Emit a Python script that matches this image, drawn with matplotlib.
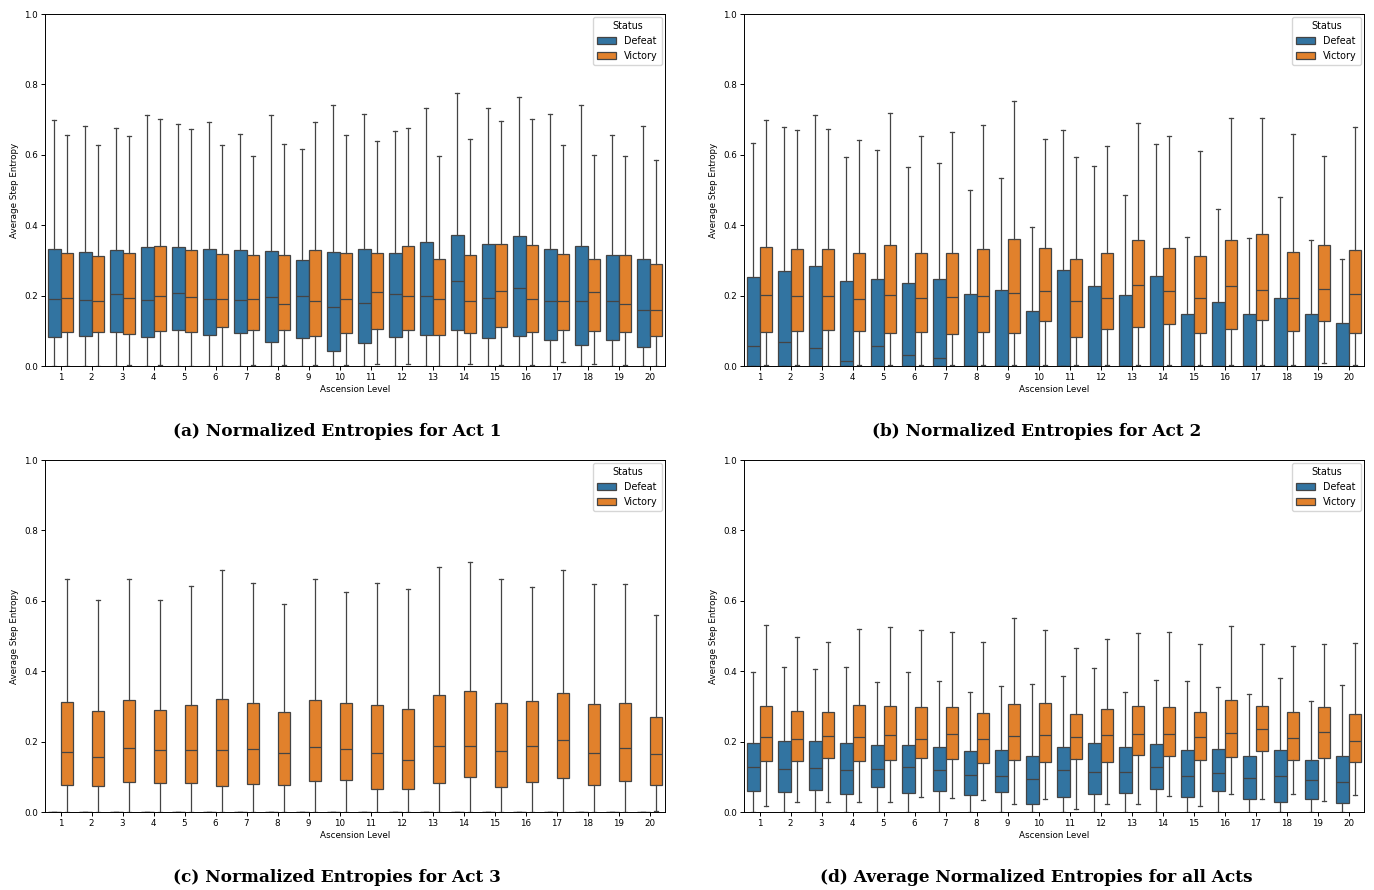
import matplotlib.pyplot as plt
from matplotlib.patches import Patch

levels = list(range(1, 21))

# Act 1
a_def_lo = [0.0, 0.0, 0.0, 0.0, 0.0, 0.0, 0.0, 0.0, 0.0, 0.0, 0.0, 0.0, 0.0, 0.0, 0.0, 0.0, 0.0, 0.0, 0.0, 0.0]
a_def_q1 = [0.082, 0.085, 0.097, 0.083, 0.101, 0.089, 0.095, 0.068, 0.080, 0.042, 0.066, 0.083, 0.087, 0.103, 0.080, 0.085, 0.074, 0.061, 0.074, 0.053]
a_def_med = [0.191, 0.187, 0.205, 0.187, 0.206, 0.191, 0.187, 0.196, 0.200, 0.168, 0.180, 0.205, 0.200, 0.242, 0.193, 0.222, 0.184, 0.184, 0.184, 0.160]
a_def_q3 = [0.333, 0.324, 0.329, 0.339, 0.339, 0.331, 0.329, 0.327, 0.300, 0.324, 0.331, 0.320, 0.352, 0.371, 0.346, 0.369, 0.331, 0.340, 0.314, 0.303]
a_def_hi = [0.700, 0.683, 0.675, 0.714, 0.687, 0.692, 0.660, 0.712, 0.617, 0.741, 0.717, 0.667, 0.732, 0.775, 0.732, 0.763, 0.716, 0.741, 0.655, 0.681]
a_vic_lo = [0.0, 0.0, 0.002, 0.003, 0.0, 0.0, 0.002, 0.003, 0.003, 0.003, 0.007, 0.005, 0.0, 0.007, 0.002, 0.002, 0.010, 0.005, 0.002, 0.0]
a_vic_q1 = [0.098, 0.096, 0.091, 0.100, 0.097, 0.112, 0.101, 0.101, 0.085, 0.093, 0.106, 0.101, 0.089, 0.095, 0.112, 0.097, 0.102, 0.100, 0.097, 0.085]
a_vic_med = [0.194, 0.186, 0.193, 0.198, 0.197, 0.189, 0.189, 0.177, 0.184, 0.189, 0.211, 0.198, 0.189, 0.186, 0.212, 0.189, 0.186, 0.209, 0.176, 0.160]
a_vic_q3 = [0.321, 0.312, 0.322, 0.342, 0.330, 0.318, 0.316, 0.314, 0.329, 0.322, 0.320, 0.341, 0.305, 0.316, 0.348, 0.344, 0.318, 0.303, 0.316, 0.291]
a_vic_hi = [0.655, 0.627, 0.653, 0.702, 0.672, 0.627, 0.597, 0.631, 0.694, 0.655, 0.638, 0.677, 0.597, 0.646, 0.696, 0.702, 0.629, 0.599, 0.596, 0.586]

# Act 2
b_def_lo = [0.0, 0.0, 0.0, 0.0, 0.0, 0.0, 0.0, 0.0, 0.0, 0.0, 0.0, 0.0, 0.0, 0.0, 0.0, 0.0, 0.0, 0.0, 0.0, 0.0]
b_def_q1 = [0.0, 0.0, 0.0, 0.0, 0.0, 0.0, 0.0, 0.0, 0.0, 0.0, 0.0, 0.0, 0.0, 0.0, 0.0, 0.0, 0.0, 0.0, 0.0, 0.0]
b_def_med = [0.058, 0.069, 0.051, 0.015, 0.057, 0.032, 0.023, 0.0, 0.0, 0.0, 0.0, 0.0, 0.0, 0.0, 0.0, 0.0, 0.0, 0.0, 0.0, 0.0]
b_def_q3 = [0.254, 0.271, 0.285, 0.241, 0.247, 0.235, 0.247, 0.205, 0.216, 0.157, 0.274, 0.228, 0.203, 0.256, 0.149, 0.181, 0.149, 0.194, 0.147, 0.121]
b_def_hi = [0.633, 0.679, 0.712, 0.595, 0.615, 0.566, 0.578, 0.499, 0.533, 0.394, 0.670, 0.569, 0.485, 0.630, 0.366, 0.447, 0.364, 0.481, 0.359, 0.305]
b_vic_lo = [0.002, 0.002, 0.0, 0.002, 0.002, 0.002, 0.003, 0.002, 0.002, 0.002, 0.003, 0.002, 0.002, 0.002, 0.002, 0.003, 0.003, 0.002, 0.009, 0.002]
b_vic_q1 = [0.097, 0.099, 0.101, 0.099, 0.093, 0.097, 0.091, 0.097, 0.095, 0.129, 0.083, 0.105, 0.112, 0.118, 0.093, 0.106, 0.130, 0.099, 0.129, 0.095]
b_vic_med = [0.203, 0.200, 0.200, 0.191, 0.203, 0.194, 0.197, 0.198, 0.206, 0.214, 0.184, 0.194, 0.229, 0.214, 0.194, 0.226, 0.216, 0.194, 0.220, 0.205]
b_vic_q3 = [0.339, 0.331, 0.331, 0.320, 0.344, 0.321, 0.321, 0.331, 0.361, 0.335, 0.305, 0.320, 0.359, 0.335, 0.312, 0.359, 0.375, 0.325, 0.344, 0.329]
b_vic_hi = [0.698, 0.670, 0.673, 0.642, 0.720, 0.652, 0.666, 0.686, 0.754, 0.644, 0.595, 0.625, 0.690, 0.652, 0.612, 0.704, 0.704, 0.660, 0.596, 0.680]

# Act 3
c_def_lo = [0.0, 0.0, 0.0, 0.0, 0.0, 0.0, 0.0, 0.0, 0.0, 0.0, 0.0, 0.0, 0.0, 0.0, 0.0, 0.0, 0.0, 0.0, 0.0, 0.0]
c_def_q1 = [0.0, 0.0, 0.0, 0.0, 0.0, 0.0, 0.0, 0.0, 0.0, 0.0, 0.0, 0.0, 0.0, 0.0, 0.0, 0.0, 0.0, 0.0, 0.0, 0.0]
c_def_med = [0.0, 0.0, 0.0, 0.0, 0.0, 0.0, 0.0, 0.0, 0.0, 0.0, 0.0, 0.0, 0.0, 0.0, 0.0, 0.0, 0.0, 0.0, 0.0, 0.0]
c_def_q3 = [0.0, 0.0, 0.0, 0.0, 0.0, 0.0, 0.0, 0.0, 0.0, 0.0, 0.0, 0.0, 0.0, 0.0, 0.0, 0.0, 0.0, 0.0, 0.0, 0.0]
c_def_hi = [0.0, 0.0, 0.0, 0.0, 0.0, 0.0, 0.0, 0.0, 0.0, 0.0, 0.0, 0.0, 0.0, 0.0, 0.0, 0.0, 0.0, 0.0, 0.0, 0.0]
c_vic_lo = [0.0, 0.0, 0.0, 0.0, 0.0, 0.0, 0.0, 0.0, 0.0, 0.0, 0.0, 0.0, 0.0, 0.0, 0.0, 0.0, 0.0, 0.0, 0.0, 0.002]
c_vic_q1 = [0.076, 0.074, 0.085, 0.082, 0.082, 0.074, 0.080, 0.076, 0.088, 0.092, 0.066, 0.064, 0.083, 0.099, 0.072, 0.085, 0.097, 0.078, 0.087, 0.078]
c_vic_med = [0.171, 0.156, 0.182, 0.177, 0.177, 0.177, 0.180, 0.169, 0.186, 0.180, 0.167, 0.147, 0.188, 0.188, 0.174, 0.188, 0.204, 0.169, 0.183, 0.166]
c_vic_q3 = [0.312, 0.288, 0.318, 0.291, 0.305, 0.321, 0.309, 0.283, 0.319, 0.309, 0.305, 0.292, 0.333, 0.345, 0.309, 0.315, 0.339, 0.307, 0.311, 0.271]
c_vic_hi = [0.663, 0.603, 0.661, 0.601, 0.641, 0.688, 0.650, 0.591, 0.661, 0.626, 0.651, 0.634, 0.696, 0.711, 0.663, 0.640, 0.687, 0.647, 0.647, 0.560]

# Average over all acts
d_def_lo = [0.0, 0.0, 0.0, 0.0, 0.0, 0.0, 0.0, 0.0, 0.0, 0.0, 0.0, 0.0, 0.0, 0.0, 0.0, 0.0, 0.0, 0.0, 0.0, 0.0]
d_def_q1 = [0.061, 0.057, 0.063, 0.052, 0.071, 0.054, 0.059, 0.047, 0.056, 0.024, 0.044, 0.052, 0.054, 0.064, 0.044, 0.060, 0.038, 0.029, 0.036, 0.026]
d_def_med = [0.127, 0.121, 0.124, 0.118, 0.121, 0.127, 0.118, 0.106, 0.101, 0.093, 0.118, 0.113, 0.113, 0.127, 0.101, 0.112, 0.096, 0.101, 0.092, 0.084]
d_def_q3 = [0.195, 0.201, 0.203, 0.197, 0.190, 0.191, 0.184, 0.173, 0.175, 0.159, 0.186, 0.195, 0.184, 0.193, 0.175, 0.178, 0.159, 0.175, 0.147, 0.159]
d_def_hi = [0.397, 0.412, 0.405, 0.412, 0.369, 0.397, 0.371, 0.342, 0.357, 0.363, 0.386, 0.410, 0.342, 0.376, 0.371, 0.354, 0.336, 0.382, 0.316, 0.361]
d_vic_lo = [0.017, 0.027, 0.029, 0.029, 0.029, 0.043, 0.039, 0.034, 0.024, 0.036, 0.009, 0.024, 0.022, 0.046, 0.016, 0.050, 0.036, 0.052, 0.031, 0.048]
d_vic_q1 = [0.146, 0.146, 0.154, 0.146, 0.148, 0.154, 0.150, 0.140, 0.148, 0.142, 0.150, 0.142, 0.161, 0.159, 0.148, 0.155, 0.173, 0.148, 0.154, 0.142]
d_vic_med = [0.213, 0.208, 0.215, 0.213, 0.219, 0.208, 0.221, 0.206, 0.215, 0.219, 0.213, 0.219, 0.223, 0.221, 0.213, 0.225, 0.236, 0.209, 0.228, 0.201]
d_vic_q3 = [0.300, 0.286, 0.283, 0.305, 0.300, 0.299, 0.297, 0.280, 0.308, 0.310, 0.278, 0.292, 0.302, 0.299, 0.283, 0.317, 0.300, 0.285, 0.297, 0.278]
d_vic_hi = [0.532, 0.497, 0.482, 0.519, 0.526, 0.517, 0.510, 0.483, 0.551, 0.517, 0.466, 0.491, 0.508, 0.510, 0.476, 0.528, 0.478, 0.472, 0.478, 0.480]

captions = ["(a) Normalized Entropies for Act 1", "(b) Normalized Entropies for Act 2",
            "(c) Normalized Entropies for Act 3", "(d) Average Normalized Entropies for all Acts"]

panels = [
    ((a_def_lo, a_def_q1, a_def_med, a_def_q3, a_def_hi), (a_vic_lo, a_vic_q1, a_vic_med, a_vic_q3, a_vic_hi)),
    ((b_def_lo, b_def_q1, b_def_med, b_def_q3, b_def_hi), (b_vic_lo, b_vic_q1, b_vic_med, b_vic_q3, b_vic_hi)),
    ((c_def_lo, c_def_q1, c_def_med, c_def_q3, c_def_hi), (c_vic_lo, c_vic_q1, c_vic_med, c_vic_q3, c_vic_hi)),
    ((d_def_lo, d_def_q1, d_def_med, d_def_q3, d_def_hi), (d_vic_lo, d_vic_q1, d_vic_med, d_vic_q3, d_vic_hi)),
]

blue = '#3274a1'
orange = '#e1812c'
line = '#444444'
fs = 6.3

W, H = 1374, 890
fig = plt.figure(figsize=(W / 100, H / 100), dpi=100)

# axes boxes in pixels: left, top
boxes = [(45, 14), (744, 14), (45, 460), (744, 460)]
cap_pos = [(337, 432), (1037, 432), (337, 878), (1036, 878)]
aw, ah = 620, 352


def make_stats(s):
    lo, q1, med, q3, hi = s
    return [dict(whislo=lo[i], q1=q1[i], med=med[i], q3=q3[i], whishi=hi[i], fliers=[])
            for i in range(len(levels))]


for k, (dstat, vstat) in enumerate(panels):
    x0, y0 = boxes[k]
    ax = fig.add_axes([x0 / W, 1 - (y0 + ah) / H, aw / W, ah / H])
    for stat, off, col in [(dstat, -0.2, blue), (vstat, 0.2, orange)]:
        pos = [i + off for i in range(len(levels))]
        ax.bxp(make_stats(stat), positions=pos, widths=0.4, patch_artist=True,
               showfliers=False, capwidths=0.13,
               boxprops=dict(facecolor=col, edgecolor=line, linewidth=0.9),
               medianprops=dict(color=line, linewidth=0.9),
               whiskerprops=dict(color=line, linewidth=0.9),
               capprops=dict(color=line, linewidth=0.9))
    ax.set_xlim(-0.5, 19.5)
    ax.set_ylim(0, 1.0)
    ax.set_xticks(range(len(levels)))
    ax.set_xticklabels([str(l) for l in levels])
    ax.set_yticks([0, 0.2, 0.4, 0.6, 0.8, 1.0])
    ax.set_yticklabels(['0.0', '0.2', '0.4', '0.6', '0.8', '1.0'])
    ax.tick_params(labelsize=fs, length=3, width=0.7, pad=2)
    for sp in ax.spines.values():
        sp.set_linewidth(0.7)
    ax.set_xlabel('Ascension Level', fontsize=fs, labelpad=2)
    ax.set_ylabel('Average Step Entropy', fontsize=fs, labelpad=4)
    handles = [Patch(facecolor=blue, edgecolor=line, linewidth=0.9, label='Defeat'),
               Patch(facecolor=orange, edgecolor=line, linewidth=0.9, label='Victory')]
    ax.legend(handles=handles, title='Status', loc='upper right', fontsize=6.9,
              title_fontsize=6.9, handlelength=2.0, handleheight=0.7,
              borderaxespad=0.35)
    cx, cy = cap_pos[k]
    fig.text(cx / W, 1 - cy / H, captions[k], ha='center', va='center',
             fontsize=12.2, fontweight='bold', family='DejaVu Serif')

fig.savefig('out.png', dpi=100)
